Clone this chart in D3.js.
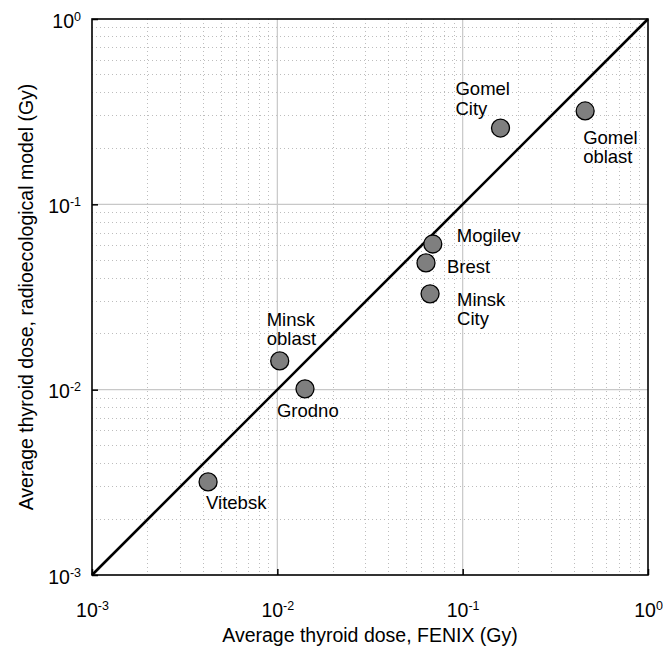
<!DOCTYPE html>
<html>
<head>
<meta charset="utf-8">
<script src="https://cdn.jsdelivr.net/npm/d3@7"></script>
<style>
  html, body { margin: 0; padding: 0; background: #fff; }
  svg { display: block; font-family: Arial, "Liberation Sans", Helvetica, sans-serif; }
</style>
</head>
<body>
<svg id="chart" width="663" height="650"></svg>
<script>
// Regions of Belarus: thyroid dose, FENIX vs radioecological model (Gy)
const regions = ["Vitebsk", "Minsk oblast", "Grodno", "Mogilev", "Brest", "Minsk City", "Gomel City", "Gomel oblast"];
const fenixDose = [0.00423, 0.0103, 0.0141, 0.0690, 0.0634, 0.0667, 0.160, 0.458];
const modelDose = [0.00318, 0.0143, 0.0101, 0.0611, 0.0483, 0.0329, 0.258, 0.319];
// label lines and placement relative to each point (dx, dy of first baseline)
const labelLines = [["Vitebsk"], ["Minsk", "oblast"], ["Grodno"], ["Mogilev"], ["Brest"], ["Minsk", "City"], ["Gomel", "City"], ["Gomel", "oblast"]];
const labelOffsets = [[-2, 27], [-13, -35], [-28, 28], [24, -2], [21, 10], [27, 12], [-45, -33], [-2, 33]];
const decadeTicks = [1e-3, 1e-2, 1e-1, 1];
const tickExponents = ["-3", "-2", "-1", "0"];
const xTitle = "Average thyroid dose, FENIX (Gy)";
const yTitle = "Average thyroid dose, radioecological model (Gy)";

const svg = d3.select("#chart");
const m = { left: 92, right: 648, top: 19, bottom: 575 };

const x = d3.scaleLog().domain([1e-3, 1]).range([m.left, m.right]);
const y = d3.scaleLog().domain([1e-3, 1]).range([m.bottom, m.top]);

// minor grid values 2..9 within each decade
const minor = [];
for (let e = -3; e < 0; e++) for (let k = 2; k <= 9; k++) minor.push(k * Math.pow(10, e));

const grid = svg.append("g");
grid.selectAll(".mx").data(minor).join("line")
  .attr("x1", d => x(d)).attr("x2", d => x(d)).attr("y1", m.top).attr("y2", m.bottom)
  .attr("stroke", "#bdbdbd").attr("stroke-width", 1).attr("stroke-dasharray", "1,3")
  .attr("shape-rendering", "crispEdges");
grid.selectAll(".my").data(minor).join("line")
  .attr("y1", d => y(d)).attr("y2", d => y(d)).attr("x1", m.left).attr("x2", m.right)
  .attr("stroke", "#bdbdbd").attr("stroke-width", 1).attr("stroke-dasharray", "1,3")
  .attr("shape-rendering", "crispEdges");
const major = decadeTicks.slice(1, 3);
grid.selectAll(".Mx").data(major).join("line")
  .attr("x1", d => x(d)).attr("x2", d => x(d)).attr("y1", m.top).attr("y2", m.bottom)
  .attr("stroke", "#c8c8c8").attr("stroke-width", 1.2);
grid.selectAll(".My").data(major).join("line")
  .attr("y1", d => y(d)).attr("y2", d => y(d)).attr("x1", m.left).attr("x2", m.right)
  .attr("stroke", "#c8c8c8").attr("stroke-width", 1.2);

// axes: inward ticks, labels as 10 with superscript exponent
const xAxis = svg.append("g").attr("transform", `translate(0,${m.bottom})`)
  .call(d3.axisBottom(x).tickValues(decadeTicks).tickSizeInner(-6).tickSizeOuter(0).tickFormat(() => ""));
const yAxis = svg.append("g").attr("transform", `translate(${m.left},0)`)
  .call(d3.axisLeft(y).tickValues(decadeTicks).tickSizeInner(-6).tickSizeOuter(0).tickFormat(() => ""));
[xAxis, yAxis].forEach(a => {
  a.select(".domain").remove();
  a.selectAll(".tick line").attr("stroke", "#000").attr("stroke-width", 1.5);
});

function powerLabel(sel, i) {
  sel.append("tspan").text("10");
  sel.append("tspan").attr("font-size", 12.5).attr("dy", -7).text(tickExponents[i]);
}
xAxis.selectAll(".tick text").each(function(d, i) {
  const t = d3.select(this).attr("y", 0).attr("dy", null)
    .attr("transform", "translate(0,42)").attr("font-size", 19.5).attr("fill", "#000")
    .attr("text-anchor", "middle");
  powerLabel(t, i);
});
yAxis.selectAll(".tick text").each(function(d, i) {
  const t = d3.select(this).attr("x", 0).attr("dy", null)
    .attr("transform", "translate(-11,8)").attr("font-size", 19.5).attr("fill", "#000")
    .attr("text-anchor", "end");
  powerLabel(t, i);
});

// identity line
svg.append("line")
  .attr("x1", x(1e-3)).attr("y1", y(1e-3)).attr("x2", x(1)).attr("y2", y(1))
  .attr("stroke", "#000").attr("stroke-width", 2.6);

// frame
svg.append("rect").attr("x", m.left).attr("y", m.top).attr("width", m.right - m.left).attr("height", m.bottom - m.top)
  .attr("fill", "none").attr("stroke", "#000").attr("stroke-width", 1.6);

// points
const pts = regions.map((r, i) => ({ r, fx: fenixDose[i], my: modelDose[i], lines: labelLines[i], off: labelOffsets[i] }));
svg.append("g").selectAll("circle").data(pts).join("circle")
  .attr("cx", d => x(d.fx)).attr("cy", d => y(d.my)).attr("r", 9)
  .attr("fill", "#7f7f7f").attr("stroke", "#000").attr("stroke-width", 1.3);

const labels = svg.append("g").selectAll("text").data(pts).join("text")
  .attr("font-size", 18.5).attr("fill", "#000")
  .attr("x", d => x(d.fx) + d.off[0]).attr("y", d => y(d.my) + d.off[1]);
labels.each(function(d) {
  const t = d3.select(this);
  d.lines.forEach((ln, j) => {
    t.append("tspan").attr("x", x(d.fx) + d.off[0]).attr("dy", j === 0 ? 0 : 19.5).text(ln);
  });
});

// axis titles
svg.append("text").attr("x", (m.left + m.right) / 2).attr("y", 642)
  .attr("text-anchor", "middle").attr("font-size", 19.5).text(xTitle);
svg.append("text").attr("transform", `translate(33,${(m.top + m.bottom) / 2}) rotate(-90)`)
  .attr("text-anchor", "middle").attr("font-size", 19.5).text(yTitle);
</script>
</body>
</html>
